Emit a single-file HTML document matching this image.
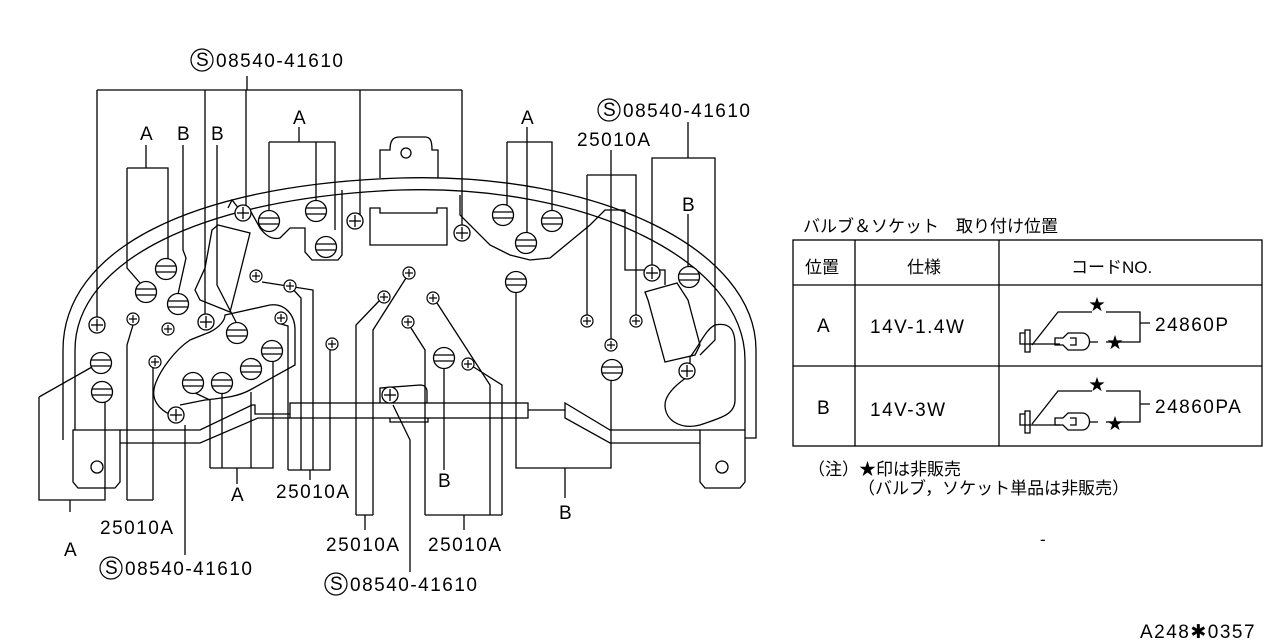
<!DOCTYPE html>
<html><head><meta charset="utf-8"><style>
html,body{margin:0;padding:0;background:#fff;}
svg{display:block}
text{font-family:"Liberation Sans","Noto Sans CJK JP",sans-serif;fill:#000}
.l{font-size:19px;letter-spacing:1.5px}
.j{font-size:17px}
</style></head><body>
<svg width="1280" height="640" viewBox="0 0 1280 640" xmlns="http://www.w3.org/2000/svg">
<defs>
<g id="bulb"><circle r="10.5" fill="#fff" stroke="#000" stroke-width="1.3"/><line x1="-10" y1="-3" x2="10" y2="-3" stroke="#000" stroke-width="1.3"/><line x1="-10" y1="3" x2="10" y2="3" stroke="#000" stroke-width="1.3"/></g>
<g id="sc"><circle r="8" fill="#fff" stroke="#000" stroke-width="1.3"/><line x1="-6" y1="0" x2="6" y2="0" stroke="#000" stroke-width="1.3"/><line x1="0" y1="-6" x2="0" y2="6" stroke="#000" stroke-width="1.3"/></g>
<g id="ss"><circle r="6" fill="#fff" stroke="#000" stroke-width="1.2"/><line x1="-4" y1="0" x2="4" y2="0" stroke="#000" stroke-width="1.2"/><line x1="0" y1="-4" x2="0" y2="4" stroke="#000" stroke-width="1.2"/></g>
</defs>
<g fill="none" stroke="#000" stroke-width="1.3">
<path d="M63,440 L63,350 C63,250 190,185 400,178 C600,172 756,250 756,350 L756,438 L745,438"/>
<path d="M75,430 L75,350 C75,262 200,198 400,190 C590,184 745,262 745,360 L745,430"/>
<path d="M380,178 L380,150 L390,150 C390,138 395,137 400,137 L425,137 C430,137 432,140 432,150 L438,150 L438,178"/>
<circle cx="406" cy="153" r="5"/>
<path d="M370,208 L380,208 L380,213 L437,213 L437,208 L447,208 L447,245 L370,245 Z"/>
<path d="M73,430 L120,430 L120,482 L115,488 L78,488 L73,482 Z"/><circle cx="97" cy="467" r="6"/>
<path d="M700,430 L745,430 L745,482 L740,488 L705,488 L700,482 Z"/><circle cx="722" cy="467" r="6"/>
<path d="M120,430 L200,430 L252,405 L255,405 L255,414 L290,414"/>
<path d="M120,443 L200,443 L258,418 L290,418"/>
<rect x="290" y="403" width="238" height="15"/>
<path d="M528,410 L565,410 L565,403 L610,430 L700,430"/>
<path d="M565,410 L565,418 L610,443 L700,443"/>
<path d="M380,403 L380,388 L420,385 C425,385 427,388 427,392 L427,403"/>
<path d="M390,418 L390,422 L428,422 L428,418"/>
<path d="M171,415 C160,410 150,400 155,385 C160,370 175,350 190,340 L210,332 C220,327 225,320 225,315 L270,305 C285,303 295,315 295,330 L295,365 L250,390 C235,398 220,398 205,400 L180,405"/>
<path d="M218,225 L250,233 L237,285 L230,312 L200,300 L195,290 L205,268 L212,230 Z"/>
<path d="M228,208 L232,200 L240,210 L250,210 L260,228 C265,235 272,240 280,238 L290,228 L305,228 L305,252 L312,260 L338,260 L342,255 L342,190"/>
<path d="M460,195 L460,215 L490,245 L510,255 L530,260 L550,258 L590,225 L605,210 L625,210 L625,270 L665,270 L665,285"/>
<path d="M645,292 L677,283 L688,300 L700,345 L695,355 L665,362 L648,300 Z"/>
<path d="M690,357 C700,345 705,330 715,325 C730,322 735,330 735,345 L735,400 C735,415 720,418 700,425 C680,430 665,420 665,405 C665,395 675,385 690,375 Z"/>
<path d="M97,90 L97,325"/><path d="M205,90 L205,322"/><path d="M246,90 L246,213"/><path d="M360,90 L360,221"/><path d="M462,90 L462,233"/>
<path d="M97,90 L462,90"/><path d="M247,76 L247,90"/>
<path d="M146,145 L146,168 M127,168 L168,168 L168,259 M127,168 L127,268 L140,283"/>
<path d="M183,145 L183,250 L186,258 L178,294"/>
<path d="M217,145 L217,285 L236,322"/>
<path d="M299,127 L299,142 M269,142 L335,142 L335,230 M269,142 L269,211 M316,142 L316,201"/>
<path d="M527,127 L527,142 M507,142 L552,142 L552,211 M507,142 L507,205 M527,142 L527,233"/>
<path d="M611,150 L611,340 M587,175 L636,175 L636,316 M587,175 L587,316"/>
<path d="M688,122 L688,158 L652,158 L652,265 M688,158 L715,158 L715,340 L700,355"/>
<path d="M688,214 L688,266"/>
<!-- left A bracket -->
<path d="M39,397 L92,367 M39,397 L39,500 L105,500 L105,402 M70,500 L70,512"/>
<path d="M127,500 L127,345 L133,325 M153,500 L153,362 M127,500 L153,500"/>
<path d="M185,555 L185,425"/>
<path d="M237,468 L237,484 M210,468 L273,468 L273,351 M210,468 L210,400 L193,392 M222,468 L222,394 M251,468 L251,392"/>
<path d="M288,470 L330,470 L330,350 M288,470 L288,326 L281,324 M301,470 L301,298 L290,286 M313,470 L313,290 L262,282 M310,470 L310,480"/>
<path d="M356,515 L373,515 M356,515 L356,325 L380,300 M373,515 L373,330 L406,278 M365,515 L365,530"/>
<path d="M410,572 L410,440 L393,405"/>
<path d="M444,368 L444,470"/>
<path d="M425,515 L502,515 M425,515 L425,350 L411,328 M502,515 L502,385 L472,366 M490,515 L490,385 L437,303 M464,515 L464,530"/>
<path d="M516,293 L516,468 L611,468 L611,380 M565,468 L565,498"/>
</g>
<use href="#bulb" x="269" y="221"/><use href="#bulb" x="316" y="211"/><use href="#bulb" x="326" y="247"/>
<use href="#bulb" x="166" y="269"/><use href="#bulb" x="146" y="292"/><use href="#bulb" x="178" y="304"/>
<use href="#bulb" x="237" y="333"/><use href="#bulb" x="272" y="351"/><use href="#bulb" x="251" y="369"/>
<use href="#bulb" x="222" y="383"/><use href="#bulb" x="193" y="383"/><use href="#bulb" x="101" y="363"/><use href="#bulb" x="102" y="392"/>
<use href="#bulb" x="503" y="215"/><use href="#bulb" x="526" y="243"/><use href="#bulb" x="552" y="221"/>
<use href="#bulb" x="516" y="282"/><use href="#bulb" x="689" y="277"/><use href="#bulb" x="444" y="358"/><use href="#bulb" x="612" y="370"/>
<use href="#sc" x="97" y="325"/><use href="#sc" x="243" y="213"/><use href="#sc" x="355" y="221"/><use href="#sc" x="462" y="233"/>
<use href="#sc" x="206" y="322"/><use href="#sc" x="176" y="415"/><use href="#sc" x="390" y="395"/><use href="#sc" x="652" y="273"/><use href="#sc" x="687" y="371"/>
<use href="#ss" x="133" y="319"/><use href="#ss" x="168" y="329"/><use href="#ss" x="155" y="362"/><use href="#ss" x="256" y="276"/>
<use href="#ss" x="290" y="286"/><use href="#ss" x="281" y="318"/><use href="#ss" x="332" y="344"/><use href="#ss" x="384" y="297"/>
<use href="#ss" x="409" y="273"/><use href="#ss" x="433" y="298"/><use href="#ss" x="408" y="322"/><use href="#ss" x="468" y="364"/>
<use href="#ss" x="587" y="321"/><use href="#ss" x="636" y="321"/><use href="#ss" x="611" y="345"/>
<g fill="none" stroke="#000" stroke-width="1.2">
<circle cx="202" cy="60" r="11"/><circle cx="609" cy="110" r="11"/><circle cx="111" cy="568" r="11"/><circle cx="336" cy="584" r="11"/>
</g>
<text class="l" x="196" y="66" font-size="14">S</text><text class="l" x="216" y="67">08540-41610</text>
<text class="l" x="603" y="116" font-size="14">S</text><text class="l" x="623" y="117">08540-41610</text>
<text class="l" x="105" y="574" font-size="14">S</text><text class="l" x="125" y="575">08540-41610</text>
<text class="l" x="330" y="590" font-size="14">S</text><text class="l" x="350" y="591">08540-41610</text>
<text class="l" x="577" y="146">25010A</text>
<text class="l" x="100" y="534">25010A</text>
<text class="l" x="276" y="498">25010A</text>
<text class="l" x="326" y="551">25010A</text>
<text class="l" x="428" y="551">25010A</text>
<text class="l" x="140" y="140">A</text><text class="l" x="177" y="140">B</text><text class="l" x="211" y="140">B</text>
<text class="l" x="293" y="124">A</text><text class="l" x="521" y="124">A</text><text class="l" x="682" y="211">B</text>
<text class="l" x="64" y="556">A</text><text class="l" x="231" y="501">A</text><text class="l" x="438" y="487">B</text><text class="l" x="559" y="519">B</text>
<text class="j" x="803" y="232">バルブ＆ソケット　取り付け位置</text>
<g fill="none" stroke="#000" stroke-width="1.3">
<rect x="793" y="240" width="469" height="206"/>
<line x1="855" y1="240" x2="855" y2="446"/><line x1="999" y1="240" x2="999" y2="446"/>
<line x1="793" y1="285" x2="1262" y2="285"/><line x1="793" y1="366" x2="1262" y2="366"/>
<path d="M1060,344 L1020,344 L1020,333 L1025,333 M1025,330 L1030,330 L1030,352 L1025,352 Z M1032,345 L1058,312 L1092,312 M1106,312 L1140,312 L1140,342 L1106,342 M1140,323 L1150,323"/>
<path d="M1055,338 L1063,338 L1068,333 L1082,333 C1092,333 1092,350 1082,350 L1068,350 L1063,345 L1055,345 Z M1070,338 L1076,338 L1076,345 L1070,345 M1090,342 L1098,342"/>
<path d="M1060,425 L1020,425 L1020,414 L1025,414 M1025,411 L1030,411 L1030,433 L1025,433 Z M1032,424 L1058,391 L1092,391 M1106,391 L1140,391 L1140,422 L1106,422 M1140,404 L1150,404"/>
<path d="M1055,418 L1063,418 L1068,413 L1082,413 C1092,413 1092,430 1082,430 L1068,430 L1063,425 L1055,425 Z M1070,418 L1076,418 L1076,425 L1070,425 M1090,422 L1098,422"/>
</g>
<text class="j" x="805" y="273">位置</text><text class="j" x="907" y="273">仕様</text><text class="j" x="1071" y="273">コードNO.</text>
<text class="l" x="817" y="332">A</text><text class="l" x="870" y="333">14V-1.4W</text>
<text class="l" x="817" y="414">B</text><text class="l" x="870" y="416">14V-3W</text>
<text x="1089" y="310" font-size="16">★</text><text x="1107" y="348" font-size="16">★</text>
<text x="1089" y="390" font-size="16">★</text><text x="1107" y="429" font-size="16">★</text>
<text class="l" x="1155" y="331">24860P</text><text class="l" x="1155" y="413">24860PA</text>
<text class="j" x="808" y="475">（注）★印は非販売</text>
<text class="j" x="858" y="494">（バルブ，ソケット単品は非販売）</text>
<text class="j" x="1040" y="545">-</text>
<text class="l" x="1140" y="638" font-size="17">A248✱0357</text>
</svg>
</body></html>
